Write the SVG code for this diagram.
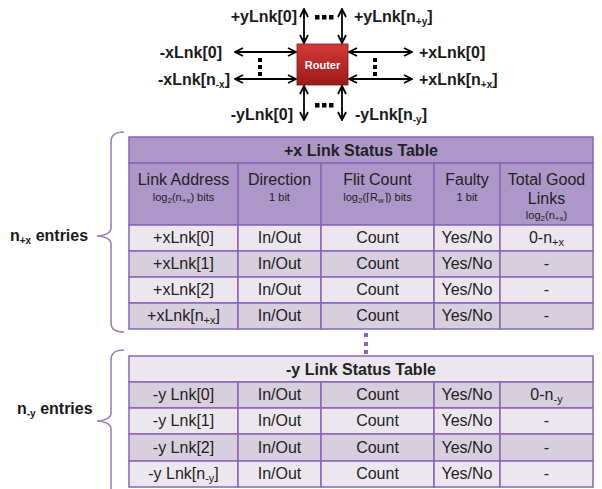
<svg xmlns="http://www.w3.org/2000/svg" width="602" height="489" viewBox="0 0 602 489">
<defs>
<linearGradient id="rg" x1="0" y1="0" x2="0" y2="1">
<stop offset="0" stop-color="#d23a36"/><stop offset="1" stop-color="#9c1a1a"/>
</linearGradient>
<marker id="ah" viewBox="0 0 10 10" refX="9" refY="5" markerWidth="10" markerHeight="10" markerUnits="userSpaceOnUse" orient="auto-start-reverse">
<polyline points="1,1 9,5 1,9" fill="none" stroke="#000" stroke-width="1.8"/>
</marker>
<style>
.lbl{font-family:"Liberation Sans",Arial,sans-serif;font-weight:bold;font-size:16px;fill:#1a1a1a}
.sub{font-size:10px}
.arr{stroke:#000;stroke-width:1.8;fill:none;marker-start:url(#ah);marker-end:url(#ah)}
.dot{fill:#000}
.pdot{fill:#8b65b5}
.cell{stroke:#8b65b5;stroke-width:1.5}
.hd{fill:#ad97c9}
.lt{fill:#ece7ef}
.dk{fill:#d7cfdd}
.t{font-family:"Liberation Sans",Arial,sans-serif;font-size:16px;fill:#222;text-anchor:middle}
.tb{font-family:"Liberation Sans",Arial,sans-serif;font-size:16px;font-weight:bold;fill:#222;text-anchor:middle}
.s{font-family:"Liberation Sans",Arial,sans-serif;font-size:11px;fill:#222;text-anchor:middle}
.brace{fill:none;stroke:#9b7fc0;stroke-width:1.6}
</style>
</defs>

<g id="connectors">
<line class="arr" x1="304" y1="9" x2="304" y2="43"/>
<line class="arr" x1="342" y1="9" x2="342" y2="43"/>
<line class="arr" x1="304" y1="86" x2="304" y2="120"/>
<line class="arr" x1="342" y1="86" x2="342" y2="120"/>
<line class="arr" x1="235" y1="52" x2="296" y2="52"/>
<line class="arr" x1="235" y1="79" x2="296" y2="79"/>
<line class="arr" x1="349" y1="52" x2="412" y2="52"/>
<line class="arr" x1="349" y1="79" x2="412" y2="79"/>
</g>

<g id="router">
<rect x="297" y="44" width="51" height="41" fill="url(#rg)" stroke="#7a1414" stroke-width="0.8"/>
<text x="322.5" y="69" text-anchor="middle" font-family="Liberation Sans,Arial,sans-serif" font-weight="bold" font-size="11" fill="#fff">Router</text>
</g>

<g id="link-labels">
<text class="lbl" x="297" y="22" text-anchor="end">+yLnk[0]</text>
<text class="lbl" x="354" y="22">+yLnk[n<tspan class="sub" dy="3">+y</tspan><tspan dy="-3">]</tspan></text>
<text class="lbl" x="222" y="58" text-anchor="end">-xLnk[0]</text>
<text class="lbl" x="158" y="85">-xLnk[n<tspan class="sub" dy="3">-x</tspan><tspan dy="-3">]</tspan></text>
<text class="lbl" x="419" y="58">+xLnk[0]</text>
<text class="lbl" x="419" y="85">+xLnk[n<tspan class="sub" dy="3">+x</tspan><tspan dy="-3">]</tspan></text>
<text class="lbl" x="293" y="120" text-anchor="end">-yLnk[0]</text>
<text class="lbl" x="355" y="120">-yLnk[n<tspan class="sub" dy="3">-y</tspan><tspan dy="-3">]</tspan></text>
</g>

<g id="dots">
<rect class="dot" x="315" y="15" width="4.5" height="4.5"/>
<rect class="dot" x="322" y="15" width="4.5" height="4.5"/>
<rect class="dot" x="329" y="15" width="4.5" height="4.5"/>
<rect class="dot" x="315" y="103" width="4.5" height="4.5"/>
<rect class="dot" x="322" y="103" width="4.5" height="4.5"/>
<rect class="dot" x="329" y="103" width="4.5" height="4.5"/>
<rect class="dot" x="258" y="58" width="4" height="4"/>
<rect class="dot" x="258" y="65" width="4" height="4"/>
<rect class="dot" x="258" y="72" width="4" height="4"/>
<rect class="dot" x="373" y="58" width="4" height="4"/>
<rect class="dot" x="373" y="65" width="4" height="4"/>
<rect class="dot" x="373" y="72" width="4" height="4"/>
<rect class="pdot" x="364" y="333" width="4" height="4"/>
<rect class="pdot" x="364" y="342" width="4" height="4"/>
<rect class="pdot" x="364" y="350" width="4" height="4"/>
</g>

<g id="table-px">
<rect class="cell hd" x="129" y="137" width="464" height="26"/>
<rect class="cell hd" x="129" y="163" width="109" height="62"/>
<rect class="cell hd" x="238" y="163" width="83" height="62"/>
<rect class="cell hd" x="321" y="163" width="113" height="62"/>
<rect class="cell hd" x="434" y="163" width="66" height="62"/>
<rect class="cell hd" x="500" y="163" width="93" height="62"/>
<text class="tb" x="361" y="156">+x Link Status Table</text>
<text class="t" x="183.5" y="185">Link Address</text>
<text class="s" x="183.5" y="201">log<tspan font-size="8" dy="2">2</tspan><tspan dy="-2">(n</tspan><tspan font-size="8" dy="2">+x</tspan><tspan dy="-2">) bits</tspan></text>
<text class="t" x="279.5" y="185">Direction</text>
<text class="s" x="279.5" y="201">1 bit</text>
<text class="t" x="377.5" y="185">Flit Count</text>
<text class="s" x="377.5" y="201">log<tspan font-size="8" dy="2">2</tspan><tspan dy="-2">(⌈R</tspan><tspan font-size="8" dy="2">w</tspan><tspan dy="-2">⌉) bits</tspan></text>
<text class="t" x="467" y="185">Faulty</text>
<text class="s" x="467" y="201">1 bit</text>
<text class="t" x="546.5" y="185">Total Good</text>
<text class="t" x="546.5" y="204">Links</text>
<text class="s" x="546.5" y="219">log<tspan font-size="8" dy="2">2</tspan><tspan dy="-2">(n</tspan><tspan font-size="8" dy="2">+x</tspan><tspan dy="-2">)</tspan></text>

<g class="cell">
<rect class="lt" x="129" y="225" width="109" height="26"/><rect class="lt" x="238" y="225" width="83" height="26"/><rect class="lt" x="321" y="225" width="113" height="26"/><rect class="lt" x="434" y="225" width="66" height="26"/><rect class="lt" x="500" y="225" width="93" height="26"/>
<rect class="dk" x="129" y="251" width="109" height="26"/><rect class="dk" x="238" y="251" width="83" height="26"/><rect class="dk" x="321" y="251" width="113" height="26"/><rect class="dk" x="434" y="251" width="66" height="26"/><rect class="dk" x="500" y="251" width="93" height="26"/>
<rect class="lt" x="129" y="277" width="109" height="26"/><rect class="lt" x="238" y="277" width="83" height="26"/><rect class="lt" x="321" y="277" width="113" height="26"/><rect class="lt" x="434" y="277" width="66" height="26"/><rect class="lt" x="500" y="277" width="93" height="26"/>
<rect class="dk" x="129" y="303" width="109" height="26"/><rect class="dk" x="238" y="303" width="83" height="26"/><rect class="dk" x="321" y="303" width="113" height="26"/><rect class="dk" x="434" y="303" width="66" height="26"/><rect class="dk" x="500" y="303" width="93" height="26"/>
</g>
<text class="t" x="183.5" y="243">+xLnk[0]</text><text class="t" x="279.5" y="243">In/Out</text><text class="t" x="377.5" y="243">Count</text><text class="t" x="467" y="243">Yes/No</text><text class="t" x="546.5" y="243">0-n<tspan font-size="11" dy="3">+x</tspan></text>
<text class="t" x="183.5" y="269">+xLnk[1]</text><text class="t" x="279.5" y="269">In/Out</text><text class="t" x="377.5" y="269">Count</text><text class="t" x="467" y="269">Yes/No</text><text class="t" x="546.5" y="269">-</text>
<text class="t" x="183.5" y="295">+xLnk[2]</text><text class="t" x="279.5" y="295">In/Out</text><text class="t" x="377.5" y="295">Count</text><text class="t" x="467" y="295">Yes/No</text><text class="t" x="546.5" y="295">-</text>
<text class="t" x="183.5" y="321">+xLnk[n<tspan font-size="11" dy="3">+x</tspan><tspan dy="-3">]</tspan></text><text class="t" x="279.5" y="321">In/Out</text><text class="t" x="377.5" y="321">Count</text><text class="t" x="467" y="321">Yes/No</text><text class="t" x="546.5" y="321">-</text>
</g>

<g id="table-ny">
<rect class="cell lt" x="129" y="356" width="464" height="26"/>
<text class="tb" x="361" y="375">-y Link Status Table</text>
<g class="cell">
<rect class="dk" x="129" y="382" width="109" height="26"/><rect class="dk" x="238" y="382" width="83" height="26"/><rect class="dk" x="321" y="382" width="113" height="26"/><rect class="dk" x="434" y="382" width="66" height="26"/><rect class="dk" x="500" y="382" width="93" height="26"/>
<rect class="lt" x="129" y="408" width="109" height="26"/><rect class="lt" x="238" y="408" width="83" height="26"/><rect class="lt" x="321" y="408" width="113" height="26"/><rect class="lt" x="434" y="408" width="66" height="26"/><rect class="lt" x="500" y="408" width="93" height="26"/>
<rect class="dk" x="129" y="434" width="109" height="27"/><rect class="dk" x="238" y="434" width="83" height="27"/><rect class="dk" x="321" y="434" width="113" height="27"/><rect class="dk" x="434" y="434" width="66" height="27"/><rect class="dk" x="500" y="434" width="93" height="27"/>
<rect class="lt" x="129" y="461" width="109" height="26"/><rect class="lt" x="238" y="461" width="83" height="26"/><rect class="lt" x="321" y="461" width="113" height="26"/><rect class="lt" x="434" y="461" width="66" height="26"/><rect class="lt" x="500" y="461" width="93" height="26"/>
</g>
<text class="t" x="183.5" y="400">-y Lnk[0]</text><text class="t" x="279.5" y="400">In/Out</text><text class="t" x="377.5" y="400">Count</text><text class="t" x="467" y="400">Yes/No</text><text class="t" x="546.5" y="400">0-n<tspan font-size="11" dy="3">-y</tspan></text>
<text class="t" x="183.5" y="426">-y Lnk[1]</text><text class="t" x="279.5" y="426">In/Out</text><text class="t" x="377.5" y="426">Count</text><text class="t" x="467" y="426">Yes/No</text><text class="t" x="546.5" y="426">-</text>
<text class="t" x="183.5" y="453">-y Lnk[2]</text><text class="t" x="279.5" y="453">In/Out</text><text class="t" x="377.5" y="453">Count</text><text class="t" x="467" y="453">Yes/No</text><text class="t" x="546.5" y="453">-</text>
<text class="t" x="183.5" y="479">-y Lnk[n<tspan font-size="11" dy="3">-y</tspan><tspan dy="-3">]</tspan></text><text class="t" x="279.5" y="479">In/Out</text><text class="t" x="377.5" y="479">Count</text><text class="t" x="467" y="479">Yes/No</text><text class="t" x="546.5" y="479">-</text>
</g>

<g id="brace-px">
<path class="brace" d="M124,132 Q111,132 111,142 L111,228 Q111,235 97,236 Q111,237 111,244 L111,323 Q111,332 124,332"/>
<text class="lbl" x="10" y="241" font-size="15">n<tspan font-size="10" dy="3">+x</tspan><tspan dy="-3"> entries</tspan></text>
</g>
<g id="brace-ny">
<path class="brace" d="M124,350 Q111,350 111,360 L111,413 Q111,420 97,421 Q111,422 111,429 L111,489"/>
<text class="lbl" x="17" y="414" font-size="15">n<tspan font-size="10" dy="3">-y</tspan><tspan dy="-3"> entries</tspan></text>
</g>
</svg>
